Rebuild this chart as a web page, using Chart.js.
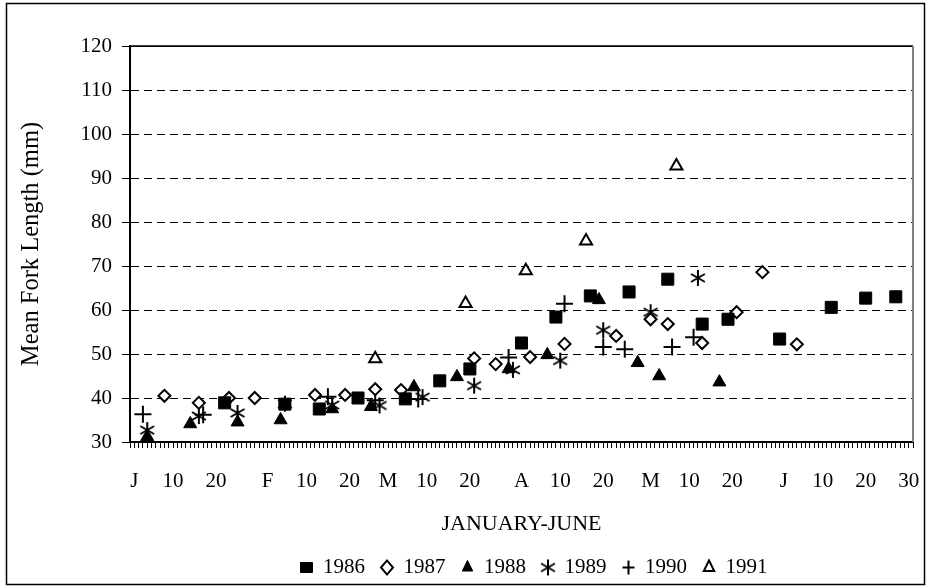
<!DOCTYPE html>
<html lang="en">
<head>
<meta charset="UTF-8">
<title>Mean Fork Length, January-June</title>
<style>
  html, body { margin: 0; padding: 0; background: #fff; }
  #wrap { width: 928px; height: 588px; }
</style>
</head>
<body>
<div id="wrap"><canvas id="forkChart" width="928" height="588"></canvas></div>
<script src="https://cdn.jsdelivr.net/npm/chart.js"></script>
<script>
// day of year (Jan 1 = 1) and mean fork length (mm) per sampling year
const tickDays  = [1, 10, 20, 32, 41, 51, 60, 69, 79, 91, 100, 110, 121, 130, 140, 152, 161, 171, 181];
const tickNames = ['J', '10', '20', 'F', '10', '20', 'M', '10', '20', 'A', '10', '20', 'M', '10', '20', 'J', '10', '20', '30'];

const years = ['1986', '1987', '1988', '1989', '1990', '1991'];

const days1986 = [22, 36, 44, 53, 64, 72, 79, 91, 99, 107, 116, 125, 133, 139, 151, 163, 171, 178];
const len1986  = [38.9, 38.6, 37.5, 40.0, 39.8, 43.9, 46.6, 52.5, 58.4, 63.2, 64.1, 67.0, 56.8, 57.9, 53.4, 60.6, 62.7, 63.0];

const days1987 = [8, 16, 23, 29, 43, 50, 57, 63, 80, 85, 93, 101, 113, 121, 125, 133, 141, 147, 155];
const len1987  = [40.5, 38.9, 40.0, 40.0, 40.7, 40.7, 42.0, 41.8, 49.0, 47.7, 49.3, 52.3, 54.1, 57.9, 56.8, 52.5, 59.5, 68.6, 52.2];

const days1988 = [4, 14, 25, 35, 47, 56, 66, 76, 88, 97, 109, 118, 123, 137];
const len1988  = [31.2, 34.1, 34.5, 35.0, 37.5, 38.0, 42.5, 44.8, 46.6, 49.8, 62.3, 48.0, 45.0, 43.6];

const days1989 = [4, 16, 25, 36, 47, 58, 68, 80, 89, 100, 110, 121, 132];
const len1989  = [32.7, 35.9, 36.6, 38.7, 38.4, 38.3, 40.2, 42.8, 46.4, 48.5, 55.4, 59.5, 67.3];

const days1990 = [3, 17, 46, 57, 67, 88, 101, 110, 115, 126, 131];
const len1990  = [36.3, 36.2, 40.3, 39.5, 39.8, 49.2, 61.4, 51.6, 51.1, 51.6, 53.8];

const days1991 = [57, 78, 92, 106, 127];
const len1991  = [48.9, 61.5, 68.9, 75.7, 92.7];

const FONT = 'Liberation Serif, Times New Roman, serif';
const LEGEND_CENTER = 534;

function pairs(days, vals) {
    return days.map((d, i) => ({ x: d, y: vals[i] }));
}

function tickLabel(v) {
    const i = tickDays.indexOf(v);
    return i >= 0 ? tickNames[i] : '';
}

// six-armed asterisk marker
function makeAsterisk(size, lw) {
    const c = document.createElement('canvas');
    c.width = size;
    c.height = size;
    const g = c.getContext('2d');
    g.strokeStyle = '#000';
    g.lineWidth = lw;
    const m = size / 2, r = size / 2 - 1;
    g.beginPath();
    for (let k = 0; k < 3; k++) {
        const a = k * Math.PI / 3;
        g.moveTo(m + r * Math.sin(a), m - r * Math.cos(a));
        g.lineTo(m - r * Math.sin(a), m + r * Math.cos(a));
    }
    g.stroke();
    return c;
}

const asterisk = makeAsterisk(18, 2);

// plot box edges, outer frame, and legend placement
const framePlugin = {
    id: 'frame',
    afterLayout(chart) {
        const lg = chart.legend;
        if (lg) {
            const shift = LEGEND_CENTER - (lg.left + lg.right) / 2;
            lg.left += shift;
            lg.right += shift;
        }
    },
    afterDraw(chart) {
        const c = chart.ctx;
        const a = chart.chartArea;
        c.save();
        c.strokeStyle = '#000';
        c.lineWidth = 1.5;
        c.beginPath();
        c.moveTo(a.left, a.top);
        c.lineTo(a.right, a.top);
        c.stroke();
        c.strokeStyle = '#808080';
        c.lineWidth = 2;
        c.beginPath();
        c.moveTo(a.right, a.top);
        c.lineTo(a.right, a.bottom);
        c.stroke();
        c.strokeStyle = '#000';
        c.lineWidth = 1.5;
        c.strokeRect(6.5, 3.5, 918, 581);
        c.restore();
    }
};

const datasets = [
    { label: years[0], data: pairs(days1986, len1986), pointStyle: 'rect', radius: 8.5,
      backgroundColor: '#000', borderColor: '#000', borderWidth: 1 },
    { label: years[1], data: pairs(days1987, len1987), pointStyle: 'rectRot', radius: 6,
      backgroundColor: '#fff', borderColor: '#000', borderWidth: 2 },
    { label: years[2], data: pairs(days1988, len1988), pointStyle: 'triangle', radius: 7.5,
      backgroundColor: '#000', borderColor: '#000', borderWidth: 1 },
    { label: years[3], data: pairs(days1989, len1989), pointStyle: asterisk, radius: 9,
      backgroundColor: '#000', borderColor: '#000', borderWidth: 2 },
    { label: years[4], data: pairs(days1990, len1990), pointStyle: 'cross', radius: 8.5,
      backgroundColor: '#000', borderColor: '#000', borderWidth: 2 },
    { label: years[5], data: pairs(days1991, len1991), pointStyle: 'triangle', radius: 7,
      backgroundColor: '#fff', borderColor: '#000', borderWidth: 2 }
];

new Chart(document.getElementById('forkChart'), {
    type: 'scatter',
    data: { datasets: datasets },
    options: {
        responsive: false,
        animation: false,
        layout: { padding: { top: 46, right: 15, left: 0, bottom: 0 } },
        scales: {
            x: {
                type: 'linear',
                min: 0,
                max: 182,
                afterFit: s => {
                    s.height = 99;
                    s.paddingLeft = 0;
                    s.paddingRight = 0;
                },
                ticks: {
                    stepSize: 1,
                    autoSkip: false,
                    maxRotation: 0,
                    padding: 21,
                    color: '#000',
                    font: { family: FONT, size: 21 },
                    callback: v => tickLabel(v)
                },
                grid: {
                    drawOnChartArea: false,
                    drawTicks: true,
                    tickLength: 6,
                    tickColor: '#000',
                    tickWidth: 1,
                    tickBorderDash: []
                },
                border: { color: '#000', width: 2 },
                title: {
                    display: true,
                    text: 'JANUARY-JUNE',
                    color: '#000',
                    font: { family: FONT, size: 22 },
                    padding: { top: 0, bottom: 4 }
                }
            },
            y: {
                min: 30,
                max: 120,
                afterFit: s => { s.width = 130; },
                ticks: {
                    stepSize: 10,
                    padding: 10,
                    color: '#000',
                    font: { family: FONT, size: 21 }
                },
                grid: {
                    color: '#000',
                    lineWidth: 1,
                    tickBorderDash: [],
                    tickLength: 8,
                    tickColor: '#000'
                },
                border: {
                    color: '#000',
                    width: 2,
                    dash: c => (c.tick && (c.tick.value === 30 || c.tick.value === 120)) ? [] : [8, 5]
                },
                title: {
                    display: true,
                    text: 'Mean Fork Length (mm)',
                    color: '#000',
                    font: { family: FONT, size: 24.5 },
                    padding: { top: 17, bottom: 0 }
                }
            }
        },
        plugins: {
            legend: {
                position: 'bottom',
                labels: {
                    usePointStyle: true,
                    boxHeight: 10,
                    pointStyleWidth: 12,
                    padding: 16,
                    color: '#000',
                    font: { family: FONT, size: 21 }
                }
            },
            tooltip: { enabled: false }
        }
    },
    plugins: [framePlugin]
});
</script>
</body>
</html>
